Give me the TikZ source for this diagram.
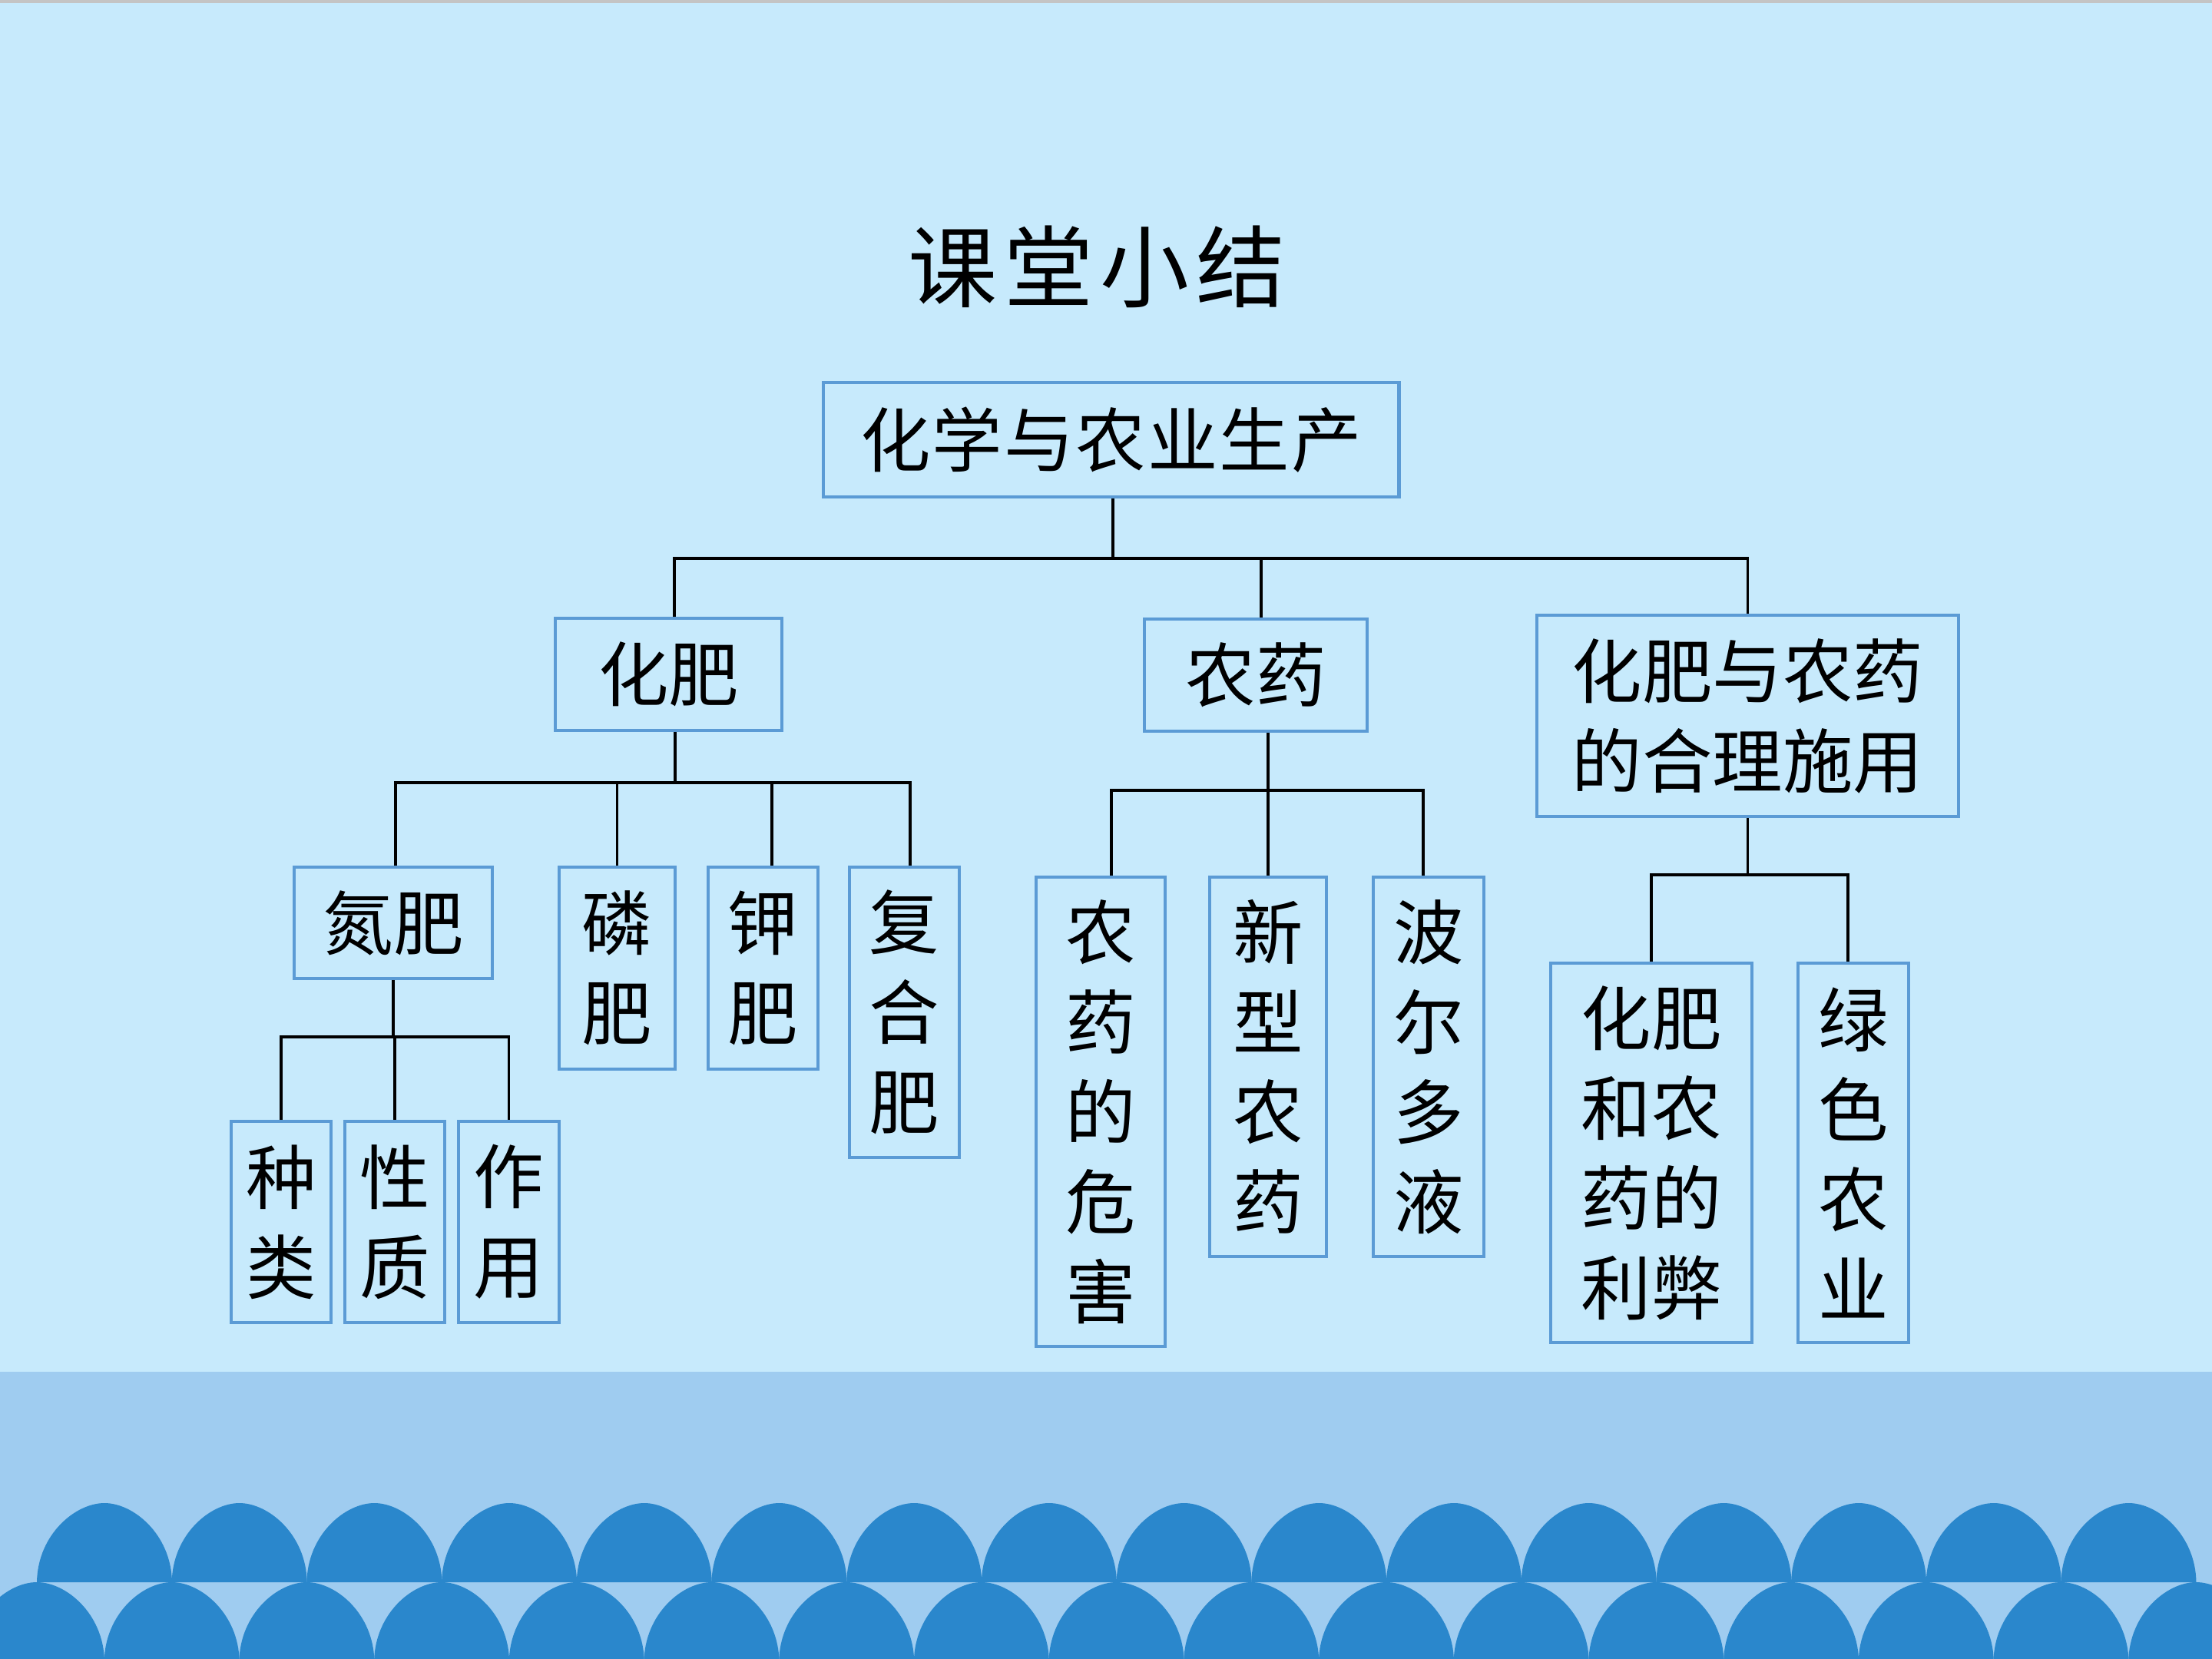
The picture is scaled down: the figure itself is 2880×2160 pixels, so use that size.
\documentclass[tikz,border=0pt]{standalone}
\usepackage{fontspec}
\setmainfont{Noto Sans CJK SC}
\definecolor{bgtop}{RGB}{199,234,252}
\definecolor{bandblue}{RGB}{159,204,240}
\definecolor{archblue}{RGB}{42,135,204}
\definecolor{boxblue}{RGB}{91,155,213}
\definecolor{topgray}{RGB}{196,196,196}
\newcommand\boxfont{\fontsize{26pt}{33.3pt}\selectfont}
\newcommand\titlefont{\fontsize{33pt}{40pt}\selectfont}
\newcommand\archat[2]{% #1 = centre x, #2 = base y
  \fill[archfill] ({#1-88},#2) .. controls ({#1-87},{#2-62}) and ({#1-38},{#2-103}) .. ({#1},{#2-103})
     .. controls ({#1+38},{#2-103}) and ({#1+87},{#2-62}) .. ({#1+88},#2) -- cycle;}
\tikzset{
  box/.style={draw=boxblue, line width=1.3pt, inner sep=0pt, align=center, font=\boxfont, text=black},
  conn/.style={line width=1.05pt, black},
  archfill/.style={fill=archblue},
}
\begin{document}
\begin{tikzpicture}[x=0.01cm, y=-0.01cm]
% background
\useasboundingbox (0,0) rectangle (2880,2160);
\clip (0,0) rectangle (2880,2160);
\fill[bgtop] (0,0) rectangle (2880,2160);
\fill[topgray] (0,0) rectangle (2880,4);
\fill[bandblue] (0,1786) rectangle (2880,2160);
\foreach \k in {0,...,15}{
  \pgfmathsetmacro\cx{136+175.7*\k}
  \archat{\cx}{2060}
}
\foreach \k in {0,...,16}{
  \pgfmathsetmacro\cx{48+175.7*\k}
  \archat{\cx}{2163}
}
% title
\node[font=\titlefont, inner sep=0pt] (title) at (1428,347) {课\kern2.5pt 堂\kern2.5pt 小\kern2.5pt 结};
% boxes
\node[box, minimum width=7.49cm, minimum height=1.49cm] (root) at (1446.5,572.5) {化\kern0.6pt 学\kern0.6pt 与\kern0.6pt 农\kern0.6pt 业\kern0.6pt 生\kern0.6pt 产};
\node[box, minimum width=2.95cm, minimum height=1.46cm] (hf) at (870.5,878) {化肥};
\node[box, minimum width=2.90cm, minimum height=1.46cm] (ny) at (1635,879) {农药};
\node[box, minimum width=5.49cm, minimum height=2.62cm] (hl) at (2275.5,932) {化肥与农药\\的合理施用};
\node[box, minimum width=2.58cm, minimum height=1.45cm] (dan) at (512,1201.5) {氮肥};
\node[box, minimum width=1.51cm, minimum height=2.63cm] (lin) at (803.5,1260.5) {磷\\肥};
\node[box, minimum width=1.43cm, minimum height=2.63cm] (jia) at (993.5,1260.5) {钾\\肥};
\node[box, minimum width=1.43cm, minimum height=3.78cm] (fh) at (1177.5,1318) {复\\合\\肥};
\node[box, minimum width=1.30cm, minimum height=2.62cm] (zl) at (366,1591) {种\\类};
\node[box, minimum width=1.30cm, minimum height=2.62cm] (xz) at (514,1591) {性\\质};
\node[box, minimum width=1.31cm, minimum height=2.62cm] (zy) at (662.5,1591) {作\\用};
\node[box, minimum width=1.68cm, minimum height=6.11cm] (wh) at (1433,1447.5) {农\\药\\的\\危\\害};
\node[box, minimum width=1.52cm, minimum height=4.94cm] (xx) at (1651,1389) {新\\型\\农\\药};
\node[box, minimum width=1.44cm, minimum height=4.94cm] (be) at (1860,1389) {波\\尔\\多\\液};
\node[box, minimum width=2.62cm, minimum height=4.94cm] (lb) at (2150,1501) {化肥\\和农\\药的\\利弊};
\node[box, minimum width=1.44cm, minimum height=4.94cm] (ls) at (2413,1501) {绿\\色\\农\\业};
% bus levels
\coordinate (b1) at (0,727);
\coordinate (b2) at (0,1019);
\coordinate (b3) at (0,1350);
\coordinate (b4) at (0,1029);
\coordinate (b5) at (0,1139);
% drop points
\coordinate (r0) at ([xshift=0.025cm]root.south);
\coordinate (hfT) at ([xshift=0.075cm]hf.north);
\coordinate (nyT) at ([xshift=0.07cm]ny.north);
\coordinate (hfB) at ([xshift=0.085cm]hf.south);
\coordinate (danT) at ([xshift=0.03cm]dan.north);
\coordinate (jiaT) at ([xshift=0.115cm]jia.north);
\coordinate (fhT) at ([xshift=0.075cm]fh.north);
\coordinate (nyB) at ([xshift=0.16cm]ny.south);
\coordinate (whT) at ([xshift=0.14cm]wh.north);
\coordinate (beT) at ([xshift=-0.07cm]be.north);
\coordinate (lsT) at ([xshift=-0.07cm]ls.north);
% level 1
\draw[conn] (r0) -- (r0 |- b1);
\draw[conn] (hfT) -- (hfT |- b1) -- (hl.north |- b1) -- (hl.north);
\draw[conn] (nyT) -- (nyT |- b1);
% 化肥
\draw[conn] (hfB) -- (hfB |- b2);
\draw[conn] (danT) -- (danT |- b2) -- (fhT |- b2) -- (fhT);
\draw[conn] (lin.north) -- (lin.north |- b2);
\draw[conn] (jiaT) -- (jiaT |- b2);
% 氮肥
\draw[conn] (dan.south) -- (dan.south |- b3);
\draw[conn] (zl.north) -- (zl.north |- b3) -- (zy.north |- b3) -- (zy.north);
\draw[conn] (xz.north) -- (xz.north |- b3);
% 农药
\draw[conn] (nyB) -- (nyB |- b4);
\draw[conn] (whT) -- (whT |- b4) -- (beT |- b4) -- (beT);
\draw[conn] (xx.north) -- (xx.north |- b4);
% 合理施用
\draw[conn] (hl.south) -- (hl.south |- b5);
\draw[conn] (lb.north) -- (lb.north |- b5) -- (lsT |- b5) -- (lsT);
\end{tikzpicture}
\end{document}
